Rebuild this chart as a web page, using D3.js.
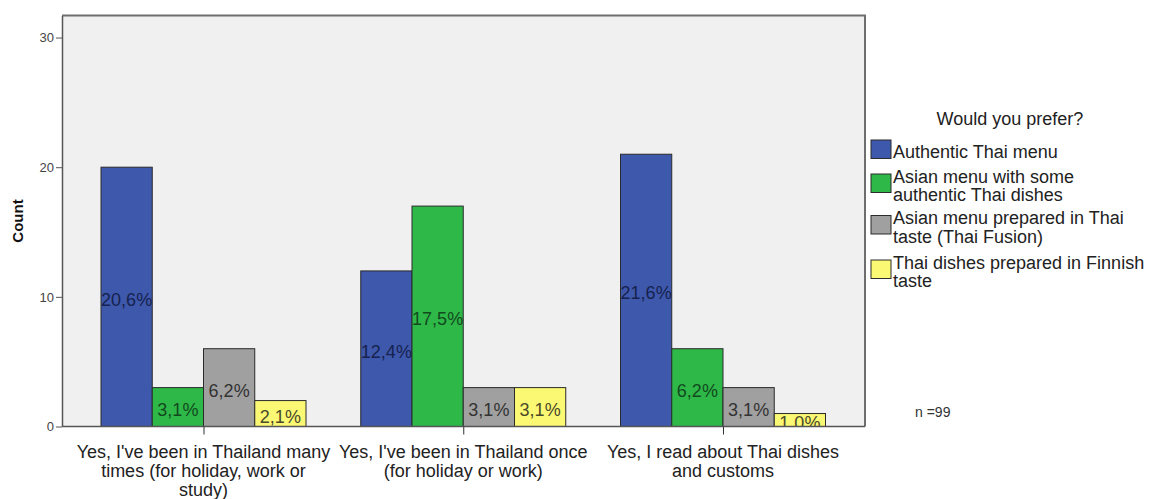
<!DOCTYPE html>
<html>
<head>
<meta charset="utf-8">
<script src="https://cdn.jsdelivr.net/npm/d3@7"></script>
<style>
  body { margin: 0; background: #ffffff; }
  svg { display: block; font-family: "Liberation Sans", Arial, sans-serif; }
</style>
</head>
<body>
<svg id="chart" width="1155" height="499"></svg>
<script>
// ---- data ----
const categories = [
  ["Yes, I've been in Thailand many", "times (for holiday, work or", "study)"],
  ["Yes, I've been in Thailand once", "(for holiday or work)"],
  ["Yes, I read about Thai dishes", "and customs"]
];
const categoryKeys = ["many", "once", "read"];
const seriesNames = [
  ["Authentic Thai menu"],
  ["Asian menu with some", "authentic Thai dishes"],
  ["Asian menu prepared in Thai", "taste (Thai Fusion)"],
  ["Thai dishes prepared in Finnish", "taste"]
];
const seriesKeys = ["authentic", "asianSome", "asianThaiTaste", "finnishTaste"];
const authenticValues = [20, 12, 21];
const asianSomeValues = [3, 17, 6];
const asianThaiTasteValues = [6, 3, 3];
const finnishTasteValues = [2, 3, 1];
const authenticLabels = ["20,6%", "12,4%", "21,6%"];
const asianSomeLabels = ["3,1%", "17,5%", "6,2%"];
const asianThaiTasteLabels = ["6,2%", "3,1%", "3,1%"];
const finnishTasteLabels = ["2,1%", "3,1%", "1,0%"];
const yTicks = [0, 10, 20, 30];
const legendTitle = "Would you prefer?";
const nText = "n =99";
const yTitle = "Count";

const seriesValues = [authenticValues, asianSomeValues, asianThaiTasteValues, finnishTasteValues];
const seriesLabels = [authenticLabels, asianSomeLabels, asianThaiTasteLabels, finnishTasteLabels];
const colors = ["#3e58ac", "#2eb848", "#a0a0a0", "#fbf873"];
const textColors = ["#16224f", "#124a1e", "#333333", "#4a4a2a"];

// ---- layout ----
const svg = d3.select("#chart");
const plot = { left: 62, right: 865, top: 15.5, bottom: 426.5 };

const y = d3.scaleLinear().domain([0, 31.7]).range([plot.bottom, plot.top]);
const x0c = d3.scalePoint().domain(categoryKeys).range([203.5, 723]);
const groupWidth = 205;
const x1 = d3.scaleBand().domain(seriesKeys).range([-groupWidth / 2, groupWidth / 2]).padding(0);

// plot background
svg.append("rect")
  .attr("x", plot.left).attr("y", plot.top)
  .attr("width", plot.right - plot.left).attr("height", plot.bottom - plot.top)
  .attr("fill", "#f0f0f0");

svg.append("defs").append("clipPath").attr("id", "plotclip")
  .append("rect")
  .attr("x", plot.left).attr("y", plot.top)
  .attr("width", plot.right - plot.left).attr("height", plot.bottom - plot.top);

// bars
const barsG = svg.append("g");
const labelsG = svg.append("g").attr("clip-path", "url(#plotclip)");
seriesKeys.forEach((sk, si) => {
  categoryKeys.forEach((ck, ci) => {
    const v = seriesValues[si][ci];
    const bx = x0c(ck) + x1(sk);
    const by = y(v);
    barsG.append("rect")
      .attr("x", bx).attr("y", by)
      .attr("width", x1.bandwidth()).attr("height", y(0) - by)
      .attr("fill", colors[si])
      .attr("stroke", "#2b2b2b").attr("stroke-width", 1);
    labelsG.append("text")
      .attr("x", bx + x1.bandwidth() / 2)
      .attr("y", (by + y(0)) / 2 + 3)
      .attr("text-anchor", "middle")
      .attr("dominant-baseline", "central")
      .attr("font-size", 18)
      .attr("fill", textColors[si])
      .text(seriesLabels[si][ci]);
  });
});

// frame top & right
svg.append("path")
  .attr("d", `M${plot.left},${plot.top}H${plot.right}V${plot.bottom}`)
  .attr("fill", "none").attr("stroke", "#6e6e6e").attr("stroke-width", 2);

// y axis
const yAxis = d3.axisLeft(y).tickValues(yTicks).tickSize(6).tickPadding(2).tickSizeOuter(0);
const yg = svg.append("g").attr("transform", `translate(${plot.left},0)`).call(yAxis);
yg.select(".domain").attr("stroke", "#555").attr("stroke-width", 1.5);
yg.selectAll(".tick line").attr("stroke", "#555");
yg.selectAll(".tick text").attr("font-size", 13).attr("fill", "#444").attr("font-family", "Liberation Sans, Arial, sans-serif");

// x axis
const xAxis = d3.axisBottom(x0c).tickSize(8).tickSizeOuter(0).tickFormat("");
const xg = svg.append("g").attr("transform", `translate(0,${plot.bottom})`).call(xAxis);
xg.select(".domain").attr("stroke", "#555").attr("stroke-width", 1.5)
  .attr("d", `M${plot.left},0H${plot.right}`);
xg.selectAll(".tick line").attr("stroke", "#333");

// x category labels
categoryKeys.forEach((ck, ci) => {
  const t = svg.append("text")
    .attr("text-anchor", "middle")
    .attr("font-size", 18)
    .attr("fill", "#222");
  categories[ci].forEach((line, li) => {
    t.append("tspan").attr("x", x0c(ck)).attr("y", 458 + li * 19).text(line);
  });
});

// y title
svg.append("text")
  .attr("transform", `translate(23,221) rotate(-90)`)
  .attr("text-anchor", "middle")
  .attr("font-size", 15).attr("font-weight", "bold")
  .attr("fill", "#111")
  .text(yTitle);

// legend
const lg = svg.append("g");
lg.append("text")
  .attr("x", 1010).attr("y", 125)
  .attr("text-anchor", "middle")
  .attr("font-size", 18).attr("fill", "#222")
  .text(legendTitle);
const legendTop = [140, 174, 215.5, 260];
const swatchH = 18.5;
seriesNames.forEach((lines, si) => {
  lg.append("rect")
    .attr("x", 871).attr("y", legendTop[si])
    .attr("width", 20).attr("height", swatchH)
    .attr("fill", colors[si]).attr("stroke", "#2b2b2b").attr("stroke-width", 1);
  const t = lg.append("text").attr("font-size", 18).attr("fill", "#222");
  const cy = legendTop[si] + swatchH / 2 + 2;
  lines.forEach((line, li) => {
    const lineCenter = cy + (li - (lines.length - 1) / 2) * 18.5;
    t.append("tspan").attr("x", 893).attr("y", lineCenter + 6.5).text(line);
  });
});

// n text
svg.append("text")
  .attr("x", 915).attr("y", 417)
  .attr("font-size", 14).attr("fill", "#333")
  .text(nText);
</script>
</body>
</html>
